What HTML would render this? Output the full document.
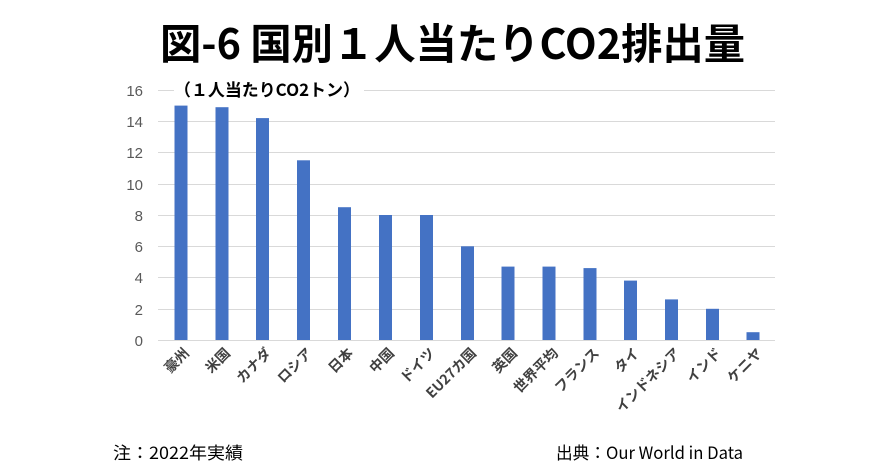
<!DOCTYPE html>
<html><head><meta charset="utf-8"><style>
html,body{margin:0;padding:0;background:#fff;}
svg{display:block;font-family:"Liberation Sans","Noto Sans CJK JP",sans-serif;}
</style></head><body>
<svg width="889" height="473" viewBox="0 0 889 473" xmlns="http://www.w3.org/2000/svg">
<rect width="889" height="473" fill="#fff"/>
<text x="160" y="59" font-size="42" font-weight="bold" fill="#000" textLength="585" lengthAdjust="spacingAndGlyphs" font-family="'Noto Sans CJK JP',sans-serif">図-6 国別１人当たりCO2排出量</text>
<g stroke="#d9d9d9" stroke-width="1">
<line x1="158" x2="775" y1="90.5" y2="90.5"/>
<line x1="158" x2="775" y1="121.5" y2="121.5"/>
<line x1="158" x2="775" y1="152.5" y2="152.5"/>
<line x1="158" x2="775" y1="184.5" y2="184.5"/>
<line x1="158" x2="775" y1="215.5" y2="215.5"/>
<line x1="158" x2="775" y1="246.5" y2="246.5"/>
<line x1="158" x2="775" y1="277.5" y2="277.5"/>
<line x1="158" x2="775" y1="309.5" y2="309.5"/>
<line x1="158" x2="775" y1="340.5" y2="340.5"/>
</g>
<g font-size="15" fill="#595959" text-anchor="end">
<text x="143" y="96">16</text><text x="143" y="127">14</text><text x="143" y="158">12</text>
<text x="143" y="190">10</text><text x="143" y="221">8</text><text x="143" y="252">6</text>
<text x="143" y="283">4</text><text x="143" y="315">2</text><text x="143" y="346">0</text>
</g>
<rect x="174" y="80" width="190" height="18" fill="#fff"/>
<text x="174" y="96" font-size="17" font-weight="bold" fill="#000" textLength="186" lengthAdjust="spacingAndGlyphs" font-family="'Noto Sans CJK JP',sans-serif">（１人当たりCO2トン）</text>
<g fill="#4472c4">
<rect x="174.5" y="105.6" width="13" height="234.4"/>
<rect x="215.5" y="107.2" width="13" height="232.8"/>
<rect x="256" y="118.1" width="13" height="221.9"/>
<rect x="297" y="160.3" width="13" height="179.7"/>
<rect x="338" y="207.2" width="13" height="132.8"/>
<rect x="379" y="215" width="13" height="125"/>
<rect x="420" y="215" width="13" height="125"/>
<rect x="461" y="246.3" width="13" height="93.7"/>
<rect x="501.5" y="266.6" width="13" height="73.4"/>
<rect x="542.5" y="266.6" width="13" height="73.4"/>
<rect x="583.5" y="268.1" width="13" height="71.9"/>
<rect x="624" y="280.6" width="13" height="59.4"/>
<rect x="665" y="299.4" width="13" height="40.6"/>
<rect x="706" y="308.8" width="13" height="31.2"/>
<rect x="746.5" y="332.2" width="13" height="7.8"/>
</g>
<g font-size="14" font-weight="bold" fill="#404040" text-anchor="end" font-family="'Noto Sans CJK JP',sans-serif">
<text transform="translate(190,354) rotate(-45)">豪州</text>
<text transform="translate(231,354) rotate(-45)">米国</text>
<text transform="translate(272,354) rotate(-45)">カナダ</text>
<text transform="translate(313,354) rotate(-45)">ロシア</text>
<text transform="translate(354,354) rotate(-45)">日本</text>
<text transform="translate(395,354) rotate(-45)">中国</text>
<text transform="translate(436,354) rotate(-45)">ドイツ</text>
<text transform="translate(477,354) rotate(-45)">EU27カ国</text>
<text transform="translate(518,354) rotate(-45)">英国</text>
<text transform="translate(559,354) rotate(-45)">世界平均</text>
<text transform="translate(600,354) rotate(-45)">フランス</text>
<text transform="translate(640,354) rotate(-45)">タイ</text>
<text transform="translate(681,354) rotate(-45)">インドネシア</text>
<text transform="translate(722,354) rotate(-45)">インド</text>
<text transform="translate(763,354) rotate(-45)">ケニヤ</text>
</g>
<text x="113" y="459" font-size="17" fill="#000" textLength="130" lengthAdjust="spacingAndGlyphs" font-family="'Noto Sans CJK JP',sans-serif">注：2022年実績</text>
<text x="556" y="459" font-size="17" fill="#000" textLength="187" lengthAdjust="spacingAndGlyphs" font-family="'Noto Sans CJK JP',sans-serif">出典：Our World in Data</text>
</svg>
</body></html>
